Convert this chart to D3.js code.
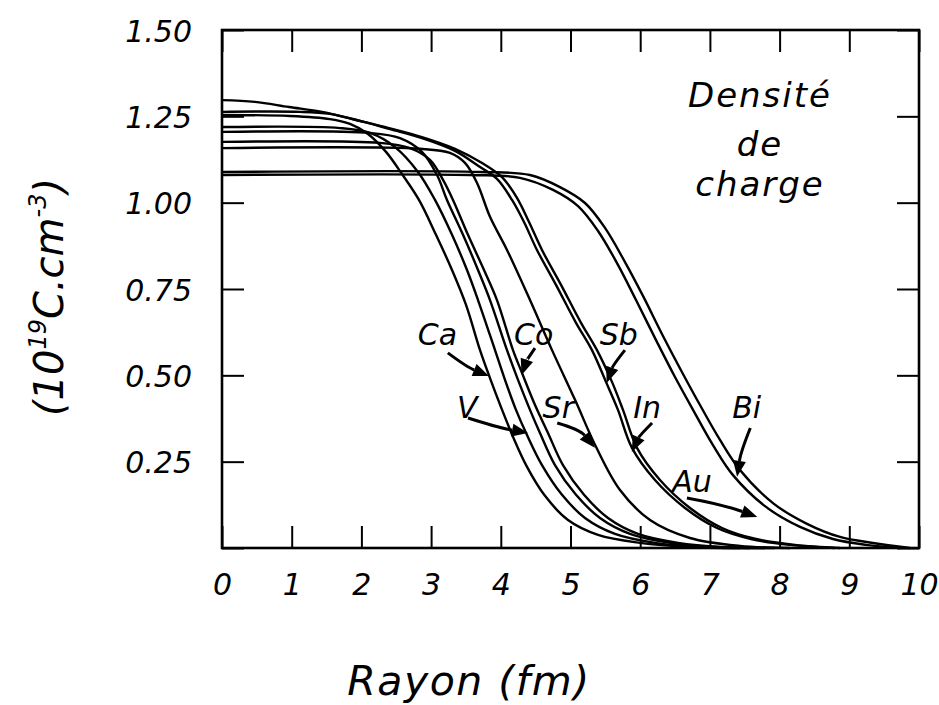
<!DOCTYPE html>
<html>
<head>
<meta charset="utf-8">
<script src="https://cdn.jsdelivr.net/npm/d3@7"></script>
<style>
  body { margin: 0; background: #fff; }
  svg { display: block; }
</style>
</head>
<body>
<div id="chart"></div>
<script>
// densite de charge (1e19 C/cm3) vs rayon (fm)
var ca = [[0,1.254],[0.976,1.251],[1.549,1.242],[1.836,1.228],[2.095,1.199],[2.353,1.147],[2.582,1.083],[2.826,1.008],[3.070,0.907],[3.300,0.805],[3.501,0.704],[3.702,0.573],[3.845,0.492],[4.003,0.408],[4.175,0.322],[4.376,0.235],[4.634,0.151],[4.964,0.081],[5.395,0.038],[5.997,0.015],[6.714,0.003],[7.432,0]];
var v = [[0,1.219],[1.693,1.216],[2.123,1.202],[2.482,1.161],[2.812,1.089],[3.056,1.008],[3.300,0.907],[3.515,0.805],[3.673,0.718],[3.917,0.573],[4.060,0.487],[4.218,0.400],[4.376,0.327],[4.591,0.240],[4.878,0.154],[5.208,0.087],[5.638,0.041],[6.212,0.015],[6.858,0.003],[7.575,0]];
var extra = [[0,1.205],[2.123,1.202],[2.554,1.187],[2.869,1.147],[3.085,1.080],[3.228,1.008],[3.458,0.907],[3.673,0.805],[3.845,0.718],[4.089,0.573],[4.247,0.487],[4.419,0.400],[4.562,0.333],[4.777,0.240],[5.079,0.154],[5.423,0.087],[5.854,0.041],[6.428,0.015],[7.073,0.003],[7.791,0]];
var co = [[0,1.176],[2.267,1.173],[2.697,1.158],[2.984,1.124],[3.171,1.066],[3.314,1.008],[3.529,0.907],[3.759,0.805],[3.945,0.718],[4.175,0.573],[4.304,0.507],[4.491,0.414],[4.677,0.333],[4.892,0.240],[5.194,0.154],[5.538,0.087],[5.968,0.041],[6.542,0.015],[7.174,0.003],[7.934,0]];
var sr = [[0,1.158],[2.841,1.156],[3.271,1.144],[3.486,1.115],[3.659,1.057],[3.845,0.959],[4.089,0.863],[4.419,0.718],[4.735,0.573],[5.065,0.429],[5.366,0.293],[5.710,0.168],[6.141,0.081],[6.714,0.029],[7.432,0.006],[8.149,0]];
var inn = [[0,1.297],[0.473,1.292],[0.961,1.277],[1.435,1.263],[1.908,1.240],[2.396,1.216],[2.869,1.190],[3.343,1.156],[3.731,1.115],[4.017,1.074],[4.232,1.014],[4.405,0.944],[4.591,0.863],[4.864,0.762],[5.151,0.652],[5.380,0.573],[5.595,0.481],[5.753,0.400],[5.954,0.290],[6.284,0.197],[6.714,0.116],[7.174,0.058],[7.661,0.026],[8.221,0.009],[8.867,0]];
var sb = [[0,1.263],[1.119,1.263],[1.549,1.257],[1.980,1.237],[2.410,1.213],[2.869,1.187],[3.343,1.150],[3.702,1.103],[3.945,1.069],[4.161,1.008],[4.333,0.944],[4.519,0.863],[4.792,0.762],[5.079,0.652],[5.308,0.573],[5.509,0.481],[5.681,0.400],[5.882,0.290],[6.212,0.197],[6.643,0.116],[7.102,0.058],[7.590,0.026],[8.149,0.009],[8.795,0]];
var au = [[0,1.080],[3.558,1.080],[4.275,1.072],[4.749,1.037],[5.108,0.990],[5.395,0.918],[5.681,0.820],[5.940,0.718],[6.227,0.602],[6.499,0.495],[6.758,0.400],[7.044,0.298],[7.331,0.211],[7.805,0.119],[8.293,0.061],[8.766,0.026],[9.240,0.009],[9.727,0]];
var bi = [[0,1.089],[3.702,1.089],[4.419,1.080],[4.849,1.045],[5.208,0.999],[5.495,0.927],[5.782,0.828],[6.040,0.730],[6.327,0.614],[6.614,0.504],[6.858,0.414],[7.145,0.313],[7.432,0.226],[7.905,0.130],[8.393,0.070],[8.867,0.032],[9.340,0.0145],[9.871,0]];

var curves = [ca, v, extra, co, sr, inn, sb, au, bi];
var xTicks = [0,1,2,3,4,5,6,7,8,9,10];
var yTicks = [0,0.25,0.5,0.75,1.0,1.25,1.5];

var W = 939, H = 705,
    font = 'DejaVu Sans';

var svg = d3.select('#chart').append('svg')
  .attr('width', W)
  .attr('height', H);

var x = d3.scaleLinear().domain([0, 10]).range([222, 919]),
    y = d3.scaleLinear().domain([0, 1.5]).range([548, 30]);

function styleAxis(g, size) {
  g.select('.domain').remove();
  g.selectAll('.tick line').attr('stroke', '#000').attr('stroke-width', 2);
  g.selectAll('text')
    .attr('fill', '#000')
    .attr('font-family', font)
    .attr('font-style', 'italic')
    .attr('font-size', size);
}

// ticks all point inward
svg.append('g').attr('transform', 'translate(0,548)')
  .call(d3.axisBottom(x).tickValues(xTicks).tickSize(-22).tickPadding(26).tickFormat(d3.format('d')))
  .call(styleAxis, 30);
svg.append('g').attr('transform', 'translate(0,30)')
  .call(d3.axisTop(x).tickValues(xTicks).tickSize(-22).tickFormat(''))
  .call(styleAxis, 30);
var ya = svg.append('g').attr('transform', 'translate(222,0)')
  .call(d3.axisLeft(y).tickValues(yTicks).tickSize(-22).tickPadding(30)
    .tickFormat(function(d) { return d === 0 ? '' : d3.format('.2f')(d); }))
  .call(styleAxis, 30);
ya.selectAll('text').attr('dy', '0.37em');
svg.append('g').attr('transform', 'translate(919,0)')
  .call(d3.axisRight(y).tickValues(yTicks).tickSize(-22).tickFormat(''))
  .call(styleAxis, 30);

// frame
svg.append('rect')
  .attr('x', x(0)).attr('y', y(1.5))
  .attr('width', x(10) - x(0)).attr('height', y(0) - y(1.5))
  .attr('fill', 'none').attr('stroke', '#000').attr('stroke-width', 2.6);

var line = d3.line()
  .x(function(d) { return x(d[0]); })
  .y(function(d) { return y(d[1]); })
  .curve(d3.curveCatmullRom.alpha(0.5));

svg.append('g').selectAll('path')
  .data(curves)
  .enter().append('path')
  .attr('d', line)
  .attr('fill', 'none')
  .attr('stroke', '#000')
  .attr('stroke-width', 2.4)
  .attr('stroke-linejoin', 'round');

// labels + arrows (data coords)
var notes = [
  {t: 'Ca', at: [2.81, 0.588], from: [3.24, 0.565], to: [3.83, 0.498], bend: 3},
  {t: 'Co', at: [4.19, 0.588], from: [4.49, 0.579], to: [4.30, 0.501], bend: 2},
  {t: 'Sb', at: [5.42, 0.588], from: [5.78, 0.573], to: [5.52, 0.478], bend: 3},
  {t: 'V',  at: [3.37, 0.3765], from: [3.53, 0.3765], to: [4.39, 0.333], bend: 2},
  {t: 'Sr', at: [4.60, 0.3765], from: [4.81, 0.362], to: [5.35, 0.290], bend: -7},
  {t: 'In', at: [5.90, 0.3765], from: [6.17, 0.362], to: [5.88, 0.278], bend: 3},
  {t: 'Bi', at: [7.32, 0.3765], from: [7.58, 0.3475], to: [7.39, 0.206], bend: 3},
  {t: 'Au', at: [6.46, 0.162], from: [6.67, 0.145], to: [7.68, 0.090], bend: -3}
];

var ann = svg.append('g');
notes.forEach(function(n) {
  ann.append('text')
    .attr('x', x(n.at[0])).attr('y', y(n.at[1]))
    .attr('font-family', font).attr('font-style', 'italic')
    .attr('font-size', 30)
    .text(n.t);

  var x0 = x(n.from[0]), y0 = y(n.from[1]),
      x1 = x(n.to[0]), y1 = y(n.to[1]),
      dx = x1 - x0, dy = y1 - y0,
      len = Math.sqrt(dx*dx + dy*dy),
      cx = (x0 + x1)/2 - dy/len*n.bend,
      cy = (y0 + y1)/2 + dx/len*n.bend;
  var a = Math.atan2(y1 - cy, x1 - cx),
      hl = 16, hw = 6.5,
      bx = x1 - hl*Math.cos(a), by = y1 - hl*Math.sin(a);

  ann.append('path')
    .attr('d', 'M' + x0 + ',' + y0 + 'Q' + cx + ',' + cy + ' ' + bx + ',' + by)
    .attr('fill', 'none').attr('stroke', '#000').attr('stroke-width', 3);
  ann.append('path')
    .attr('d', 'M' + x1 + ',' + y1 +
      'L' + (bx - hw*Math.sin(a)) + ',' + (by + hw*Math.cos(a)) +
      'L' + (bx + hw*Math.sin(a)) + ',' + (by - hw*Math.cos(a)) + 'Z')
    .attr('fill', '#000');
});

// title block inside the plot
var title = ['Densité', 'de', 'charge'],
    titleY = [107, 156, 196];
title.forEach(function(t, i) {
  svg.append('text')
    .attr('x', 760).attr('y', titleY[i])
    .attr('text-anchor', 'middle')
    .attr('font-family', font).attr('font-style', 'italic')
    .attr('font-size', 34).attr('letter-spacing', 2)
    .text(t);
});

// axis titles
svg.append('text')
  .attr('x', 469).attr('y', 695)
  .attr('text-anchor', 'middle')
  .attr('font-family', font).attr('font-style', 'italic')
  .attr('font-size', 41).attr('letter-spacing', 1.5)
  .text('Rayon (fm)');

var yt = svg.append('text')
  .attr('transform', 'translate(63,297) rotate(-90)')
  .attr('text-anchor', 'middle')
  .attr('font-family', font).attr('font-style', 'italic')
  .attr('font-size', 40);
yt.append('tspan').text('(10');
yt.append('tspan').attr('font-size', 24).attr('dy', -17).text('19');
yt.append('tspan').attr('dy', 17).text('C.cm');
yt.append('tspan').attr('font-size', 24).attr('dy', -17).text('-3');
yt.append('tspan').attr('dy', 17).text(')');
</script>
</body>
</html>
